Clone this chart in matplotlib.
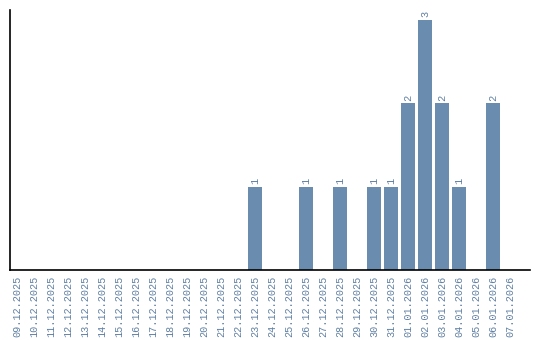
import matplotlib
matplotlib.use("Agg")
import matplotlib.pyplot as plt

dates = ["09.12.2025", "10.12.2025", "11.12.2025", "12.12.2025", "13.12.2025",
         "14.12.2025", "15.12.2025", "16.12.2025", "17.12.2025", "18.12.2025",
         "19.12.2025", "20.12.2025", "21.12.2025", "22.12.2025", "23.12.2025",
         "24.12.2025", "25.12.2025", "26.12.2025", "27.12.2025", "28.12.2025",
         "29.12.2025", "30.12.2025", "31.12.2025", "01.01.2026", "02.01.2026",
         "03.01.2026", "04.01.2026", "05.01.2026", "06.01.2026", "07.01.2026"]
counts = [0, 0, 0, 0, 0, 0, 0, 0, 0, 0, 0, 0, 0, 0, 1,
          0, 0, 1, 0, 1, 0, 1, 1, 2, 3, 2, 1, 0, 2, 0]

bar_col = "#6a8caf"
txt_col = "#5f7fa3"

plt.rcParams["font.family"] = ["Liberation Mono", "DejaVu Sans Mono"]

fig = plt.figure(figsize=(5.4, 3.4), dpi=100)
ax = fig.add_axes([0.0185, 0.206, 0.963, 0.765])

x = list(range(len(dates)))
bars = ax.bar(x, counts, width=0.82, color=bar_col)
for xi, c in zip(x, counts):
    if c > 0:
        ax.text(xi, c + 0.03, str(c), rotation=90, ha="center", va="bottom",
                fontsize=7.5, color=txt_col)

ax.set_xlim(-0.41, 30.18)
ax.set_ylim(0, 3.12)
ax.set_xticks(x)
ax.set_xticklabels(dates, rotation=90, fontsize=7.3, color=txt_col)
ax.tick_params(axis="x", length=0, pad=4)
ax.set_yticks([])
ax.spines["top"].set_visible(False)
ax.spines["right"].set_visible(False)
for s in ("left", "bottom"):
    ax.spines[s].set_linewidth(1.2)
    ax.spines[s].set_color("black")

fig.savefig("out.png", dpi=100)
